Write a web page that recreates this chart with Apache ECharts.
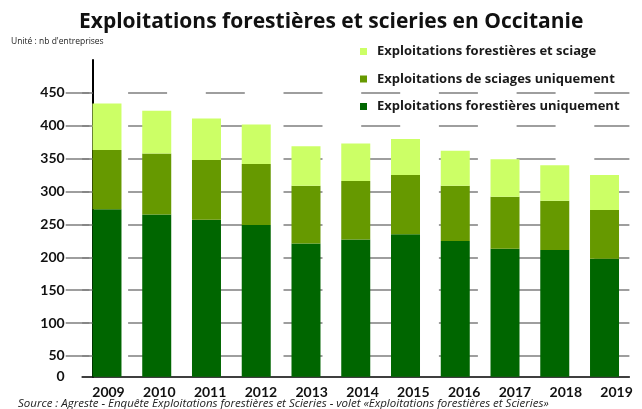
<!DOCTYPE html>
<html>
<head>
<meta charset="utf-8">
<title>Exploitations forestières et scieries en Occitanie</title>
<script src="https://cdn.jsdelivr.net/npm/echarts@6/dist/echarts.min.js"></script>
<style>
    html, body { margin: 0; padding: 0; background: #fff; }
    #chart { width: 642px; height: 409px; }
</style>
</head>
<body>
<div id="chart"></div>
<script>
(function () {
'use strict';

// données (nb d'entreprises)
var years = ['2009', '2010', '2011', '2012', '2013', '2014', '2015', '2016', '2017', '2018', '2019'];
var forestOnly   = [273, 265, 257, 249, 221, 227, 235, 225, 213, 211, 198];   // exploitations forestières uniquement
var sawOnly      = [90, 93, 91, 93, 88, 89, 90, 84, 79, 75, 74];              // exploitations de sciages uniquement
var forestAndSaw = [71, 65, 63, 60, 60, 57, 55, 53, 57, 54, 53];              // exploitations forestières et sciage
var yTicks       = [50, 100, 150, 200, 250, 300, 350, 400, 450];
var yLabels      = [0, 50, 100, 150, 200, 250, 300, 350, 400, 450];

// l'axe de l'original ne part pas de 0 : la base des barres est un peu au-dessus
var Y_MIN = 18.5, Y_MAX = 500;

var NAMES = {
    light: 'Exploitations forestières et sciage',
    mid:   'Exploitations de sciages uniquement',
    dark:  'Exploitations forestières uniquement'
};
var FONT = 'Lato';
var TEXT_FONT = 'Open Sans';
var GRID_GREY = '#7f7f7f';

var chart = echarts.init(document.getElementById('chart'), null, {renderer: 'canvas'});

function barSerie(name, data, color) {
    return {
        name: name,
        type: 'bar',
        stack: 'total',
        barWidth: 29,
        data: data,
        itemStyle: {color: color},
        emphasis: {disabled: true}
    };
}

chart.setOption({
    animation: false,
    backgroundColor: '#fff',
    title: [{
        text: 'Exploitations forestières et scieries en Occitanie',
        left: 79, top: 12, padding: 0,
        textStyle: {fontFamily: TEXT_FONT, fontWeight: 'bold', fontSize: 21, color: '#111'}
    }, {
        text: 'Unité : nb d\'entreprises',
        left: 11, top: 37, padding: 0,
        textStyle: {fontFamily: TEXT_FONT, fontWeight: 'normal', fontSize: 8.5, color: '#222'}
    }, {
        text: 'Source : Agreste - Enquête Exploitations forestières et Scieries - volet «Exploitations forestières et Scieries»',
        left: 18, top: 397.5, padding: 0,
        textStyle: {fontFamily: TEXT_FONT, fontStyle: 'italic', fontWeight: 'normal', fontSize: 11.5, color: '#222'}
    }],
    legend: {
        orient: 'vertical',
        left: 360, top: 45, padding: 0,
        icon: 'rect',
        itemWidth: 7, itemHeight: 7,
        itemGap: 14.5,
        selectedMode: false,
        data: [NAMES.light, NAMES.mid, NAMES.dark],
        textStyle: {fontFamily: TEXT_FONT, fontWeight: 'bold', fontSize: 13, color: '#1a1a1a', padding: [0, 0, 0, 5]}
    },
    grid: [
        {left: 82.1, right: 12.6, top: 60, bottom: 32.3},
        // grille « fantôme » : les années de l'original sont un peu plus espacées que les barres
        {left: 83.1, width: 565.4, top: 60, bottom: 32.3}
    ],
    xAxis: [{
        type: 'category',
        data: years,
        axisLine: {lineStyle: {color: '#000', width: 1.5}},
        axisTick: {show: false},
        axisLabel: {show: false}
    }, {
        type: 'category',
        gridIndex: 1,
        data: years,
        axisLine: {show: false},
        axisTick: {show: false},
        axisLabel: {margin: 9, fontFamily: FONT, fontWeight: 'bold', fontSize: 14, color: '#111'}
    }],
    yAxis: [{
        type: 'value',
        min: Y_MIN, max: Y_MAX,
        offset: -10.6,
        axisLine: {show: true, lineStyle: {color: '#000', width: 2}},
        axisTick: {
            show: true, length: 27, customValues: yTicks,
            lineStyle: {color: GRID_GREY, width: 1.5}
        },
        axisLabel: {
            customValues: yLabels.map(function (v) { return v === 0 ? Y_MIN : v; }),
            formatter: function (v) { return v === Y_MIN ? '0' : String(v); },
            margin: 28,
            padding: [0, 0, 8, 0],
            fontFamily: FONT, fontWeight: 'bold', fontSize: 14, color: '#111'
        },
        splitLine: {
            show: true,
            lineStyle: {color: GRID_GREY, width: 1.5, type: [39, 38.7], dashOffset: 31.7}
        }
    }, {
        type: 'value',
        gridIndex: 1,
        show: false
    }],
    series: [
        barSerie(NAMES.dark, forestOnly, '#006600'),
        barSerie(NAMES.mid, sawOnly, '#669900'),
        barSerie(NAMES.light, forestAndSaw, '#ccff66')
    ]
});

window.addEventListener('resize', chart.resize);
})();
</script>
</body>
</html>
